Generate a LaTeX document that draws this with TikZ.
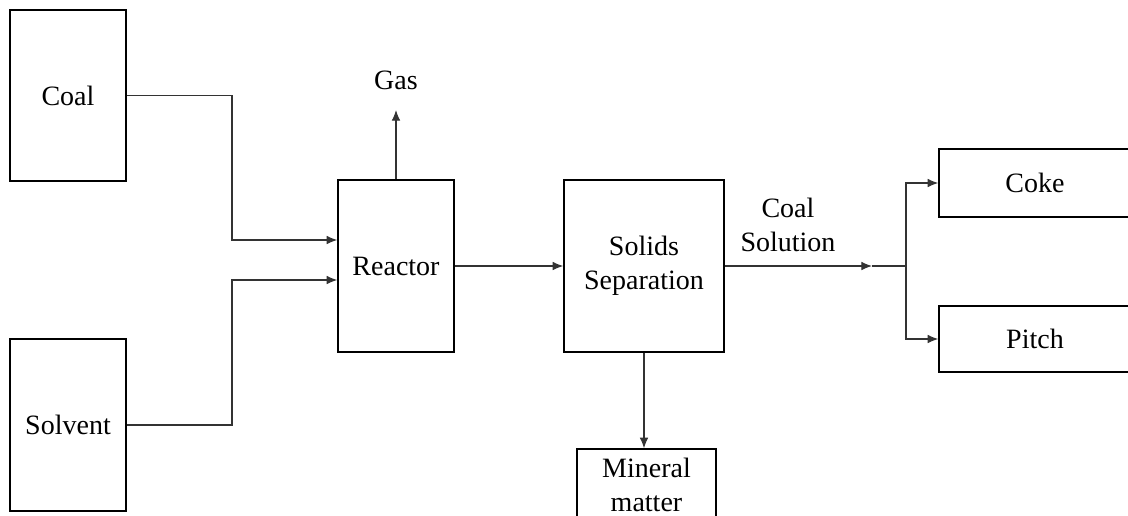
\documentclass[tikz,border=0pt]{standalone}
\usepackage{fontspec}
\setmainfont{Liberation Serif}
\usetikzlibrary{arrows.meta}
\begin{document}
\begin{tikzpicture}[
  x=0.75pt, y=-0.75pt,
  every node/.style={font=\fontsize{21}{25.5}\selectfont, align=center},
  unit/.style={draw, line width=1.1pt, inner sep=2pt},
  flow/.style={draw=black!80, line width=0.8pt, -{Latex[length=8pt,width=6.5pt]}},
  link/.style={draw=black!80, line width=0.8pt}
]
\clip (0,0) rectangle (1128,515);
% units
\node[unit, minimum width=87pt, minimum height=128.25pt] (coal) at (68,95.5) {Coal};
\node[unit, minimum width=87pt, minimum height=129pt] (solvent) at (68,425) {Solvent};
\node[unit, minimum width=87pt, minimum height=129pt] (reactor) at (396,266) {Reactor};
\node[unit, minimum width=120pt, minimum height=129pt] (solids) at (644,266) {Solids\\Separation};
\node[unit, minimum width=144pt, minimum height=51pt] (coke) at (1035,183) {Coke};
\node[unit, minimum width=144pt, minimum height=49.5pt] (pitch) at (1035,339) {Pitch};
\node[unit, minimum width=104.25pt, minimum height=54pt] (mineral) at (646.5,485) {Mineral\\matter};
% labels
\node (gas) at (396,80) {Gas};
\node (coalsol) at (788,225) {Coal\\Solution};
% junctions
\coordinate (jcoal) at (232,240);
\coordinate (jsolv) at (232,280);
\coordinate (gastip) at (396,110);
\coordinate (soltip) at (872,266);
\coordinate (branch) at (906,266);
% streams
\draw[flow] (coal.east) -| (jcoal) -- (reactor.west |- jcoal);
\draw[flow] (solvent.east) -| (jsolv) -- (reactor.west |- jsolv);
\draw[flow] (reactor.north) -- (gastip);
\draw[flow] (reactor.east) -- (solids.west);
\draw[flow] (solids.east) -- (soltip);
\draw[link] (soltip) -- (branch);
\draw[flow] (branch) |- (coke.west);
\draw[flow] (branch) |- (pitch.west);
\draw[flow] (solids.south) -- (solids.south |- mineral.north);
\end{tikzpicture}
\end{document}
